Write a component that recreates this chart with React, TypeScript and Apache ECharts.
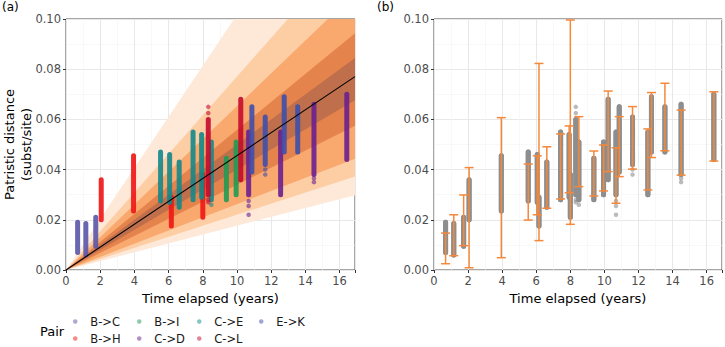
import React, { useEffect, useRef } from "react";
import * as echarts from "echarts";

// ---------- data ----------
const pairs = ["B->C", "B->H", "B->I", "C->D", "C->E", "C->L", "E->K"];

// observed columns (dense range of patristic distances per time point)
const colPair = ["B->C", "B->C", "B->C", "B->H", "B->H", "C->E", "C->E", "B->H", "C->E", "C->E", "C->E", "B->H", "C->L", "C->E", "B->I", "B->I", "C->L", "C->D", "E->K", "E->K", "C->D", "E->K", "E->K", "C->D", "C->D"];
const colX = [0.68, 1.16, 1.74, 2.06, 3.95, 5.53, 6.06, 6.16, 6.62, 7.43, 7.93, 8.0, 8.32, 8.5, 9.38, 9.95, 10.22, 10.68, 10.87, 11.65, 12.55, 12.76, 13.55, 14.5, 16.42];
const colLo = [0.007, 0.006, 0.0095, 0.02, 0.0235, 0.0275, 0.027, 0.0175, 0.025, 0.028, 0.029, 0.021, 0.03, 0.028, 0.028, 0.03, 0.036, 0.03, 0.039, 0.042, 0.03, 0.047, 0.047, 0.038, 0.044];
const colHi = [0.019, 0.0185, 0.021, 0.036, 0.0455, 0.047, 0.046, 0.029, 0.043, 0.055, 0.054, 0.038, 0.06, 0.051, 0.0445, 0.051, 0.068, 0.055, 0.065, 0.061, 0.055, 0.069, 0.065, 0.066, 0.07];

// sparse points outside the dense ranges
const outPair = ["C->L", "C->L", "C->L", "C->L", "C->E", "C->D", "C->D", "C->D", "E->K", "E->K", "C->D", "C->D"];
const outX = [8.32, 8.32, 8.32, 8.32, 8.5, 10.68, 10.68, 10.68, 11.65, 11.65, 14.5, 14.5];
const outY = [0.0625, 0.065, 0.028, 0.027, 0.026, 0.0275, 0.0255, 0.022, 0.04, 0.038, 0.0365, 0.035];

// predicted intervals (panel b)
const ebX = [0.68, 1.16, 1.74, 2.06, 3.95, 5.53, 6.06, 6.16, 6.62, 7.43, 7.93, 8.0, 8.5, 9.38, 9.95, 10.22, 10.68, 10.87, 11.65, 12.55, 12.76, 13.55, 14.5, 16.42];
const ebLo = [0.0025, 0.0057, 0.0097, 0.0009, 0.0049, 0.0199, 0.022, 0.0117, 0.0246, 0.0283, 0.0308, 0.0182, 0.0332, 0.0295, 0.0315, 0.0392, 0.0266, 0.0372, 0.0402, 0.0319, 0.0448, 0.0475, 0.0378, 0.0434];
const ebHi = [0.0147, 0.022, 0.0299, 0.0408, 0.0607, 0.0422, 0.0455, 0.0823, 0.0491, 0.0542, 0.0574, 0.0996, 0.0611, 0.0474, 0.0498, 0.0713, 0.0487, 0.0611, 0.0651, 0.0562, 0.0707, 0.0744, 0.0637, 0.071];

// fan bands: distance quantiles reached at the reference time (outer -> inner)
const BAND_T = 17;
const bandLoAtT = [0.03, 0.0375, 0.0446, 0.0578, 0.068];
const bandHiAtT = [0.173, 0.131, 0.111, 0.0949, 0.085];
const medianAtT = 0.0775;

// axis ticks
const X_MIN = 0;
const X_MAX = 16.9;
const X_INTERVAL = 2;
const Y_MIN = 0;
const Y_MAX = 0.1;
const Y_INTERVAL = 0.02;

// ---------- styles ----------
const pairColors: Record<string, string> = {
  "B->C": "#5a56a8",
  "B->H": "#f01414",
  "B->I": "#1f9b52",
  "C->D": "#6a1f8f",
  "C->E": "#12888a",
  "C->L": "#c40a2e",
  "E->K": "#3e4fab",
};
const bandColors = ["#fee9d9", "#fdcda4", "#f9a86e", "#e5834d", "#bf6f4b"];
const GREY = "#8e8e8e";
const ORANGE = "#f5883a";
const FONT = "DejaVu Sans";
const COL_W = 5;

const GRID_A = { left: 66, top: 19, width: 289, height: 251 };
const GRID_B = { left: 434, top: 19, width: 290, height: 251 };

function xAxis(gridIndex: number) {
  return {
    type: "value",
    gridIndex,
    min: X_MIN,
    max: X_MAX,
    interval: X_INTERVAL,
    axisLine: { show: false },
    axisTick: { show: true, length: 3, lineStyle: { color: "#333" } },
    axisLabel: {
      color: "#4d4d4d",
      fontSize: 11.5,
      fontFamily: FONT,
      margin: 5,
      formatter: (v: number) => (Math.abs(v - Math.round(v)) < 1e-9 ? String(Math.round(v)) : ""),
    },
    splitLine: { show: true, lineStyle: { color: "#e8e8e8", width: 1 } },
    minorTick: { show: false, splitNumber: 2 },
    minorSplitLine: { show: true, lineStyle: { color: "#f3f3f3", width: 0.6 } },
    name: "Time elapsed (years)",
    nameLocation: "middle",
    nameGap: 21,
    nameTextStyle: { fontSize: 13, color: "#000", fontFamily: FONT },
  };
}

function yAxis(gridIndex: number) {
  return {
    type: "value",
    gridIndex,
    min: Y_MIN,
    max: Y_MAX,
    interval: Y_INTERVAL,
    axisLine: { show: false },
    axisTick: { show: true, length: 3, lineStyle: { color: "#333" } },
    axisLabel: {
      color: "#4d4d4d",
      fontSize: 11.5,
      fontFamily: FONT,
      margin: 5,
      formatter: (v: number) => v.toFixed(2),
    },
    splitLine: { show: true, lineStyle: { color: "#e8e8e8", width: 1 } },
    minorTick: { show: false, splitNumber: 2 },
    minorSplitLine: { show: true, lineStyle: { color: "#f3f3f3", width: 0.6 } },
  };
}

function columnRect(api: any, x: number, lo: number, hi: number, color: string, opacity: number) {
  const pLo = api.coord([x, lo]);
  const pHi = api.coord([x, hi]);
  const h = COL_W / 2;
  return {
    type: "rect",
    shape: { x: pHi[0] - h, y: pHi[1] - h, width: COL_W, height: pLo[1] - pHi[1] + 2 * h, r: h },
    style: { fill: color, opacity },
  };
}

function columnSeries(name: string, gridIndex: number, color: string, opacity: number, data: number[][], z: number) {
  return {
    type: "custom",
    name,
    z,
    xAxisIndex: gridIndex,
    yAxisIndex: gridIndex,
    itemStyle: { color },
    encode: { x: 0, y: [1, 2] },
    data,
    renderItem: (params: any, api: any) => columnRect(api, api.value(0), api.value(1), api.value(2), color, opacity),
  };
}

function scatterSeries(name: string, gridIndex: number, color: string, data: number[][], z: number) {
  return {
    type: "scatter",
    name,
    z,
    xAxisIndex: gridIndex,
    yAxisIndex: gridIndex,
    symbol: "circle",
    symbolSize: 4.5,
    itemStyle: { color, opacity: 0.6 },
    data,
  };
}

function pairColumns(p: string) {
  return colX
    .map((x, i) => [x, colLo[i], colHi[i], colPair[i]])
    .filter((d) => d[3] === p)
    .map((d) => [d[0], d[1], d[2]] as number[]);
}

function pairOutliers(p: string) {
  return outX
    .map((x, i) => [x, outY[i], outPair[i]])
    .filter((d) => d[2] === p)
    .map((d) => [d[0], d[1]] as number[]);
}

function buildOption() {
  const series: any[] = [];

  // fan bands (panel a)
  series.push({
    type: "custom",
    name: "bands",
    xAxisIndex: 0,
    yAxisIndex: 0,
    clip: true,
    silent: true,
    data: bandLoAtT.map((lo, i) => [lo, bandHiAtT[i]]),
    encode: { x: 0, y: 1 },
    renderItem: (params: any, api: any) => {
      const lo = api.value(0);
      const hi = api.value(1);
      const pts: number[][] = [[X_MIN, Y_MIN]];
      const hiAtMax = (hi * X_MAX) / BAND_T;
      if (hiAtMax > Y_MAX) {
        pts.push([(Y_MAX * BAND_T) / hi, Y_MAX]);
        pts.push([X_MAX, Y_MAX]);
      } else {
        pts.push([X_MAX, hiAtMax]);
      }
      pts.push([X_MAX, (lo * X_MAX) / BAND_T]);
      return {
        type: "polygon",
        shape: { points: pts.map((p) => api.coord(p)) },
        style: { fill: bandColors[params.dataIndex], stroke: null },
      };
    },
  });

  // median line
  series.push({
    type: "line",
    name: "median",
    xAxisIndex: 0,
    yAxisIndex: 0,
    symbol: "none",
    silent: true,
    lineStyle: { color: "#000", width: 1.1 },
    data: [
      [X_MIN, 0],
      [X_MAX, (medianAtT * X_MAX) / BAND_T],
    ],
  });

  // coloured observations (panel a)
  pairs.forEach((p) => series.push(columnSeries(p, 0, pairColors[p], 0.9, pairColumns(p), 2)));
  pairs.forEach((p) => {
    const data = pairOutliers(p);
    if (data.length) series.push(scatterSeries(p, 0, pairColors[p], data, 2));
  });

  // panel b: grey observation columns as a broken line (base layer)
  const lineData: any[] = [];
  colX.forEach((x, i) => {
    lineData.push([x, colLo[i]]);
    lineData.push([x, colHi[i]]);
    lineData.push([x, "-"]);
  });
  series.push({
    type: "line",
    name: "obsLine",
    xAxisIndex: 1,
    yAxisIndex: 1,
    z: 2,
    symbol: "none",
    silent: true,
    connectNulls: false,
    lineStyle: { color: GREY, width: COL_W, cap: "round" },
    data: lineData,
  });
  series.push(scatterSeries("obsOut", 1, GREY, outX.map((x, i) => [x, outY[i]]), 2));

  // panel b: grey columns (top layer)
  series.push(columnSeries("obsCols", 1, GREY, 1, colX.map((x, i) => [x, colLo[i], colHi[i]]), 3));

  // panel b: predicted intervals
  series.push({
    type: "custom",
    name: "pred",
    z: 4,
    xAxisIndex: 1,
    yAxisIndex: 1,
    silent: true,
    encode: { x: 0, y: [1, 2] },
    data: ebX.map((x, i) => [x, ebLo[i], ebHi[i]]),
    renderItem: (params: any, api: any) => {
      const x = api.value(0);
      const p1 = api.coord([x, api.value(1)]);
      const p2 = api.coord([x, api.value(2)]);
      const hw = 4.5;
      const style = { stroke: ORANGE, lineWidth: 1.5, fill: null };
      return {
        type: "group",
        children: [
          { type: "line", shape: { x1: p1[0], y1: p1[1], x2: p2[0], y2: p2[1] }, style },
          { type: "line", shape: { x1: p1[0] - hw, y1: p1[1], x2: p1[0] + hw, y2: p1[1] }, style },
          { type: "line", shape: { x1: p2[0] - hw, y1: p2[1], x2: p2[0] + hw, y2: p2[1] }, style },
        ],
      };
    },
  });

  const legendCols = [
    { left: 73, items: ["B->C", "B->H"] },
    { left: 137, items: ["B->I", "C->D"] },
    { left: 197, items: ["C->E", "C->L"] },
    { left: 259, items: ["E->K"] },
  ];

  const legend = legendCols.map((c) => ({
    orient: "vertical",
    left: c.left,
    top: 313,
    padding: 0,
    itemGap: 0,
    itemWidth: 20,
    itemHeight: 4.5,
    icon: "circle",
    selectedMode: false,
    textStyle: { fontSize: 11.5, color: "#1a1a1a", fontFamily: FONT, lineHeight: 17 },
    data: c.items.map((name) => ({ name, itemStyle: { opacity: 0.5 } })),
  }));

  return {
    animation: false,
    backgroundColor: "#ffffff",
    textStyle: { fontFamily: FONT },
    grid: [
      { ...GRID_A, containLabel: false, show: true, borderColor: "#4d4d4d", borderWidth: 1, backgroundColor: "transparent" },
      { ...GRID_B, containLabel: false, show: true, borderColor: "#4d4d4d", borderWidth: 1, backgroundColor: "transparent" },
    ],
    xAxis: [xAxis(0), xAxis(1)],
    yAxis: [yAxis(0), yAxis(1)],
    legend,
    series,
    graphic: [
      { type: "text", x: 2, y: 1, silent: true, style: { text: "(a)", fontSize: 12, fontFamily: FONT, fill: "#000" } },
      { type: "text", x: 377, y: 1, silent: true, style: { text: "(b)", fontSize: 12, fontFamily: FONT, fill: "#000" } },
      {
        type: "text",
        x: 18,
        y: 144.5,
        rotation: Math.PI / 2,
        silent: true,
        style: {
          text: "Patristic distance\n(subst/site)",
          align: "center",
          verticalAlign: "middle",
          fontSize: 13,
          lineHeight: 17,
          fontFamily: FONT,
          fill: "#000",
        },
      },
      {
        type: "text",
        x: 40,
        y: 331,
        silent: true,
        style: { text: "Pair", fontSize: 13, fontFamily: FONT, fill: "#000", verticalAlign: "middle" },
      },
    ],
  };
}

export default function App() {
  const ref = useRef<HTMLDivElement>(null);
  useEffect(() => {
    if (!ref.current) return;
    const chart = echarts.init(ref.current, undefined, { renderer: "svg" });
    chart.setOption(buildOption() as any);
    return () => chart.dispose();
  }, []);
  return (
    <div
      ref={ref}
      style={{ position: "fixed", left: 0, top: 0, width: 725, height: 347, background: "#fff" }}
    />
  );
}
